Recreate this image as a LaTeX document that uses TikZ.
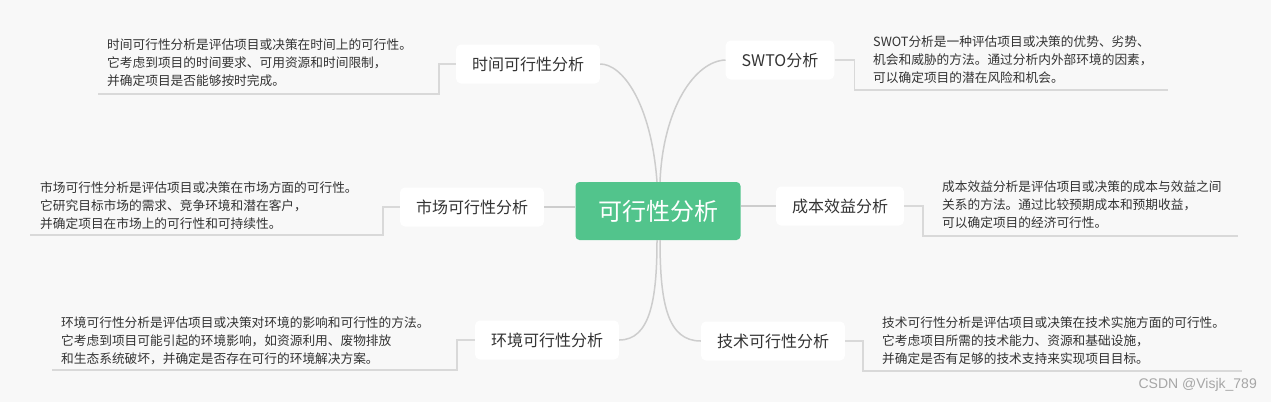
\documentclass[tikz,border=0pt]{standalone}
\usepackage{fontspec}
\newfontfamily\cjk{Noto Sans CJK SC}
\newfontfamily\wmfont{Liberation Sans}
\usetikzlibrary{calc}
\definecolor{canvas}{HTML}{F8F8F8}
\definecolor{mint}{HTML}{52C48C}
\definecolor{ink}{HTML}{333333}
\definecolor{wiregray}{HTML}{CDCDCD}
\definecolor{leadgray}{HTML}{D9D9D9}

\begin{document}
\begin{tikzpicture}[x=1pt, y=-1pt,
  root/.style={fill=mint, rounded corners=4pt, minimum width=165pt,
    minimum height=58pt, inner sep=0pt, text=white,
    font=\cjk\fontsize{24}{28}\selectfont},
  topic/.style={fill=white, rounded corners=5pt, minimum height=39pt,
    inner xsep=16pt, inner ysep=0pt, text=ink,
    font=\cjk\fontsize{16}{19}\selectfont},
  note/.style={anchor=west, align=left, inner sep=0pt, text=ink,
    font=\cjk\fontsize{12.7}{18}\selectfont},
  branch/.style={draw=wiregray, line width=1.5pt},
  leader/.style={draw=leadgray, line width=1.5pt},
]
\fill[canvas] (0,0) rectangle (1271,402);
\useasboundingbox (0,0) rectangle (1271,402);

\node[root] (root) at (658,211) {可行性分析};
\node[topic] (time) at (528,64) {时间可行性分析};
\node[topic] (swot) at (780,60) {SWTO分析};
\node[topic] (market) at (472,207) {市场可行性分析};
\node[topic] (cost) at (840,206) {成本效益分析};
\node[topic] (env) at (547,340) {环境可行性分析};
\node[topic] (tech) at (773,341) {技术可行性分析};

\node[note] (timeN) at (107,63) {时间可行性分析是评估项目或决策在时间上的可行性。\\
  它考虑到项目的时间要求、可用资源和时间限制，\\
  并确定项目是否能够按时完成。};
\node[note] (swotN) at (873,60) {SWOT分析是一种评估项目或决策的优势、劣势、\\
  机会和威胁的方法。通过分析内外部环境的因素，\\
  可以确定项目的潜在风险和机会。};
\node[note] (marketN) at (40,206) {市场可行性分析是评估项目或决策在市场方面的可行性。\\
  它研究目标市场的需求、竞争环境和潜在客户，\\
  并确定项目在市场上的可行性和可持续性。};
\node[note] (costN) at (942,205) {成本效益分析是评估项目或决策的成本与效益之间\\
  关系的方法。通过比较预期成本和预期收益，\\
  可以确定项目的经济可行性。};
\node[note] (envN) at (61,341) {环境可行性分析是评估项目或决策对环境的影响和可行性的方法。\\
  它考虑到项目可能引起的环境影响，如资源利用、废物排放\\
  和生态系统破坏，并确定是否存在可行的环境解决方案。};
\node[note] (techN) at (882,341) {技术可行性分析是评估项目或决策在技术实施方面的可行性。\\
  它考虑项目所需的技术能力、资源和基础设施，\\
  并确定是否有足够的技术支持来实现项目目标。};

\node[anchor=east, inner sep=0pt, text=black!35,
  font=\wmfont\fontsize{14}{16}\selectfont] (mark) at (1257,385) {CSDN @Visjk\_789};

\coordinate (timeE) at (98,94);
\coordinate (swotE) at (1168,90);
\coordinate (marketE) at (30,235);
\coordinate (costE) at (1238,236);
\coordinate (envE) at (52,370);
\coordinate (techE) at (1242,371);

\draw[branch] (time.east) .. controls (622,64) and (651,102) .. ([xshift=-1pt]root.north);
\draw[branch] ([xshift=2pt]root.north) .. controls (663,108) and (695,61) .. (swot.west);
\draw[branch] (market.east) -- (market.east -| root.west);
\draw[branch] (root.east |- cost.west) -- (cost.west);
\draw[branch] ([xshift=-1pt]root.south) .. controls (657,300) and (650,340) .. (env.east);
\draw[branch] ([xshift=2pt]root.south) .. controls (660,305) and (668,341) .. (tech.west);

\draw[leader] (time.west) -- ++(-17,0) |- (timeE);
\draw[leader] (swot.east) -- ++(20,0) |- (swotE);
\draw[leader] (market.west) -- ++(-17,0) |- (marketE);
\draw[leader] (cost.east) -- ++(19,0) |- (costE);
\draw[leader] (env.west) -- ++(-18,0) |- (envE);
\draw[leader] (tech.east) -- ++(18,0) |- (techE);
\end{tikzpicture}
\end{document}
